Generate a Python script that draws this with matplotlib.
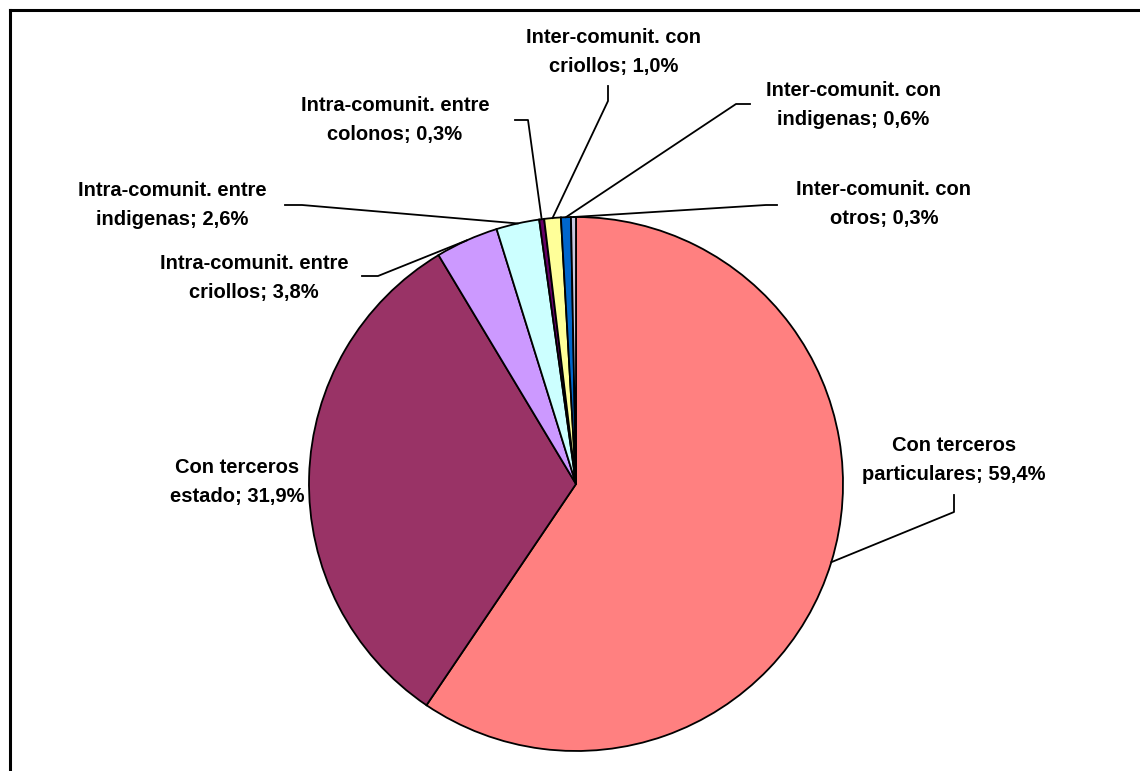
import matplotlib
matplotlib.use('Agg')
import matplotlib.pyplot as plt
import numpy as np

names = [('Con terceros', 'particulares'), ('Con terceros', 'estado'),
         ('Intra-comunit. entre', 'criollos'), ('Intra-comunit. entre', 'indigenas'),
         ('Intra-comunit. entre', 'colonos'), ('Inter-comunit. con', 'criollos'),
         ('Inter-comunit. con', 'indigenas'), ('Inter-comunit. con', 'otros')]
values = [59.4, 31.9, 3.8, 2.6, 0.3, 1.0, 0.6, 0.3]
colors = ['#FF8080', '#993366', '#CC99FF', '#CCFFFF', '#660066',
          '#FFFF99', '#0066CC', '#C8C8E0']

W, H = 1140, 771
cx, cy, R = 576, H - 484, 267

# label centres and leader elbows (pixels, y from top)
label_pos = [(954, 460), (237, 482), (254, 278), (172, 205),
             (395, 120), (614, 52), (853, 105), (884, 204)]
elbows = [[(954, 495), (954, 512)], None, [(362, 276), (378, 276)],
          [(285, 205), (302, 205)], [(515, 120), (528, 120)],
          [(608, 86), (608, 101)], [(750, 104), (736, 104)],
          [(777, 205), (766, 205)]]

plt.rcParams['font.family'] = ['Liberation Sans', 'DejaVu Sans']

fig = plt.figure(figsize=(W / 100, H / 100), dpi=100)
ax = fig.add_axes([0, 0, 1, 1])

wedges, _ = ax.pie(values, colors=colors, startangle=90, counterclock=False,
                   center=(cx, cy), radius=R, normalize=True,
                   wedgeprops=dict(edgecolor='black', linewidth=1.3))
ax.set_xlim(0, W)
ax.set_ylim(0, H)
ax.axis('off')

for i, w in enumerate(wedges):
    first, second = names[i]
    txt = f'{first}\n{second}; ' + f'{values[i]:.1f}'.replace('.', ',') + '%'
    lx, ly = label_pos[i]
    ax.text(lx, H - ly, txt, ha='center', va='center', fontsize=14.5,
            fontweight='bold', linespacing=1.62)
    if elbows[i] is not None:
        ang = np.deg2rad((w.theta1 + w.theta2) / 2)
        ex = cx + R * np.cos(ang)
        ey = cy + R * np.sin(ang)
        xs = [p[0] for p in elbows[i]] + [ex]
        ys = [H - p[1] for p in elbows[i]] + [ey]
        ax.plot(xs, ys, color='black', linewidth=1.3)

# chart frame (cut off at right and bottom)
ax.plot([10, 10], [0, H - 10], color='black', linewidth=2.2, clip_on=False)
ax.plot([10, W], [H - 10, H - 10], color='black', linewidth=2.2, clip_on=False)

fig.savefig('out.png', dpi=100)
